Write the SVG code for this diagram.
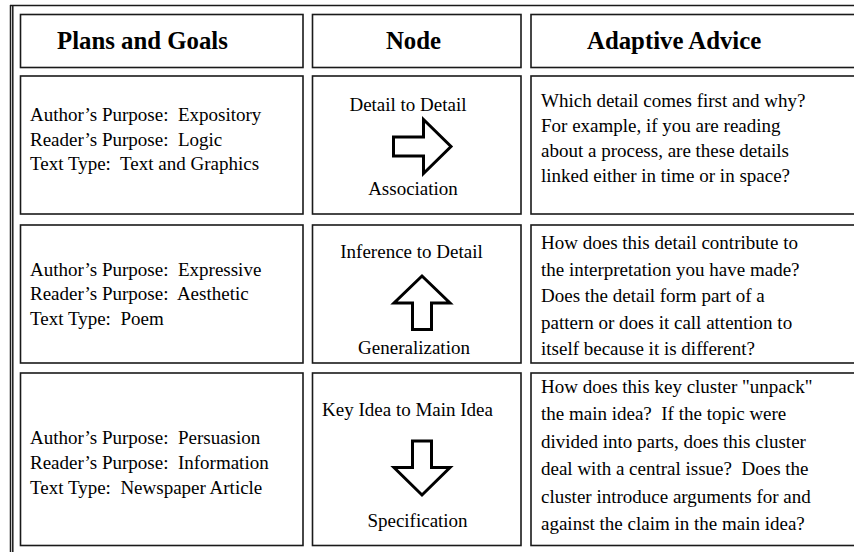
<svg xmlns="http://www.w3.org/2000/svg" width="854" height="552" viewBox="0 0 854 552">
  <style>
    .frame { fill: none; stroke: #1a1a1a; stroke-width: 1.5; }
    .cell { fill: #ffffff; stroke: #1a1a1a; stroke-width: 1.6; }
    .head { font-family: "Liberation Serif", "Times New Roman", serif; font-size: 24.8px; font-weight: bold; fill: #000; }
    .body { font-family: "Liberation Serif", "Times New Roman", serif; font-size: 19px; fill: #000; white-space: pre; }
    .mid { text-anchor: middle; }
    .arrow { fill: #ffffff; stroke: #000; stroke-width: 3; stroke-linejoin: miter; }
  </style>

  <rect width="854" height="552" fill="#ffffff"/>

  <!-- outer frame: single top rule, doubled left rule -->
  <g id="frame">
    <line class="frame" x1="10" y1="5.5" x2="854" y2="5.5"/>
    <line class="frame" x1="10.5" y1="5" x2="10.5" y2="552"/>
    <line class="frame" x1="12.8" y1="5" x2="12.8" y2="552"/>
  </g>

  <!-- column headers -->
  <g id="head-plans">
    <rect class="cell" x="20.5" y="14.5" width="282.5" height="53"/>
    <text class="head" x="57" y="49">Plans and Goals</text>
  </g>
  <g id="head-node">
    <rect class="cell" x="312.5" y="14.5" width="208.5" height="53"/>
    <text class="head mid" x="413.5" y="49">Node</text>
  </g>
  <g id="head-advice">
    <rect class="cell" x="531" y="14.5" width="340" height="53"/>
    <text class="head" x="587" y="49">Adaptive Advice</text>
  </g>

  <!-- row 1 -->
  <g id="plans-1">
    <rect class="cell" x="20.5" y="76" width="282.5" height="138"/>
    <text class="body" x="30" y="121" xml:space="preserve">Author’s Purpose:  Expository</text>
    <text class="body" x="30" y="145.5" xml:space="preserve">Reader’s Purpose:  Logic</text>
    <text class="body" x="30" y="170" xml:space="preserve">Text Type:  Text and Graphics</text>
  </g>
  <g id="node-1">
    <rect class="cell" x="312.5" y="76" width="208.5" height="138"/>
    <text class="body mid" x="408" y="110.5">Detail to Detail</text>
    <polygon class="arrow" points="393.5,137 423.5,137 423.5,119.5 451,146.5 423.5,173.5 423.5,156 393.5,156"/>
    <text class="body mid" x="413" y="195">Association</text>
  </g>
  <g id="advice-1">
    <rect class="cell" x="531" y="76" width="340" height="138"/>
    <text class="body" x="541" y="107">Which detail comes first and why?</text>
    <text class="body" x="541" y="132">For example, if you are reading</text>
    <text class="body" x="541" y="157">about a process, are these details</text>
    <text class="body" x="541" y="182">linked either in time or in space?</text>
  </g>

  <!-- row 2 -->
  <g id="plans-2">
    <rect class="cell" x="20.5" y="225" width="282.5" height="138"/>
    <text class="body" x="30" y="275.5" xml:space="preserve">Author’s Purpose:  Expressive</text>
    <text class="body" x="30" y="300" xml:space="preserve">Reader’s Purpose:  Aesthetic</text>
    <text class="body" x="30" y="324.5" xml:space="preserve">Text Type:  Poem</text>
  </g>
  <g id="node-2">
    <rect class="cell" x="312.5" y="225" width="208.5" height="138"/>
    <text class="body mid" x="411.5" y="258">Inference to Detail</text>
    <polygon class="arrow" points="422,276 450,303 431.5,303 431.5,329.5 412.5,329.5 412.5,303 394,303"/>
    <text class="body mid" x="414" y="354">Generalization</text>
  </g>
  <g id="advice-2">
    <rect class="cell" x="531" y="225" width="340" height="138"/>
    <text class="body" x="541" y="249">How does this detail contribute to</text>
    <text class="body" x="541" y="275.5">the interpretation you have made?</text>
    <text class="body" x="541" y="302">Does the detail form part of a</text>
    <text class="body" x="541" y="328.5">pattern or does it call attention to</text>
    <text class="body" x="541" y="355">itself because it is different?</text>
  </g>

  <!-- row 3 -->
  <g id="plans-3">
    <rect class="cell" x="20.5" y="373" width="282.5" height="172.5"/>
    <text class="body" x="30" y="443.5" xml:space="preserve">Author’s Purpose:  Persuasion</text>
    <text class="body" x="30" y="468.5" xml:space="preserve">Reader’s Purpose:  Information</text>
    <text class="body" x="30" y="493.5" xml:space="preserve">Text Type:  Newspaper Article</text>
  </g>
  <g id="node-3">
    <rect class="cell" x="312.5" y="373" width="208.5" height="172.5"/>
    <text class="body mid" x="407.5" y="416">Key Idea to Main Idea</text>
    <polygon class="arrow" points="412.5,441 431.5,441 431.5,467.5 450,467.5 422,495 394,467.5 412.5,467.5"/>
    <text class="body mid" x="417.5" y="527">Specification</text>
  </g>
  <g id="advice-3">
    <rect class="cell" x="531" y="373" width="340" height="172.5"/>
    <text class="body" x="541" y="392.5">How does this key cluster "unpack"</text>
    <text class="body" x="541" y="420">the main idea?  If the topic were</text>
    <text class="body" x="541" y="447.5">divided into parts, does this cluster</text>
    <text class="body" x="541" y="475">deal with a central issue?  Does the</text>
    <text class="body" x="541" y="502.5">cluster introduce arguments for and</text>
    <text class="body" x="541" y="530">against the claim in the main idea?</text>
  </g>
</svg>
